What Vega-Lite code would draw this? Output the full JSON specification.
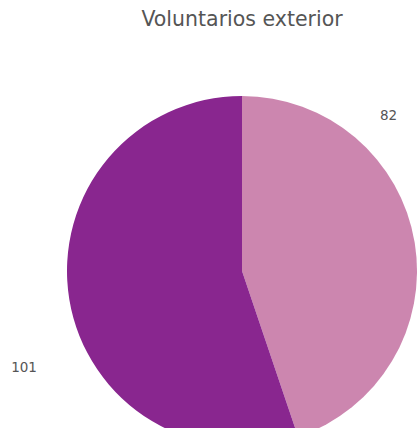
{
  "$schema": "https://vega.github.io/schema/vega-lite/v6.json",
  "autosize": {"type": "none"},
  "padding": {"left": 67, "top": 96, "right": 0, "bottom": 0},
  "width": 350,
  "height": 350,
  "background": "white",
  "title": {"text": "Voluntarios exterior", "font": "DejaVu Sans", "fontSize": 20.5, "fontWeight": "normal", "color": "#555555", "offset": 66},
  "data": {"values": [
    {"grupo": "1", "value": 82},
    {"grupo": "2", "value": 101}
  ]},
  "layer": [
    {
      "mark": {"type": "arc", "outerRadius": 175},
      "encoding": {
        "theta": {"field": "value", "type": "quantitative", "stack": true},
        "order": {"field": "grupo", "sort": "ascending"},
        "color": {"field": "grupo", "type": "nominal", "legend": null, "sort": ["1", "2"],
          "scale": {"domain": ["1", "2"], "range": ["#cc86af", "#89268f"]}}
      }
    },
    {
      "transform": [
        {"stack": "value", "groupby": [], "sort": [{"field": "grupo"}], "as": ["v0", "v1"]},
        {"filter": "datum.grupo == '1'"}
      ],
      "mark": {"type": "text", "radius": 213.6, "thetaOffset": 0.756, "font": "DejaVu Sans", "fontSize": 13.5, "color": "#555555", "align": "center", "baseline": "middle"},
      "encoding": {
        "theta": {"field": "v0", "type": "quantitative", "stack": null},
        "text": {"field": "value", "type": "quantitative"}
      }
    },
    {
      "transform": [
        {"stack": "value", "groupby": [], "sort": [{"field": "grupo"}], "as": ["v0", "v1"]},
        {"filter": "datum.grupo == '2'"}
      ],
      "mark": {"type": "text", "radius": 238.6, "thetaOffset": 1.478, "font": "DejaVu Sans", "fontSize": 13.5, "color": "#555555", "align": "center", "baseline": "middle"},
      "encoding": {
        "theta": {"field": "v0", "type": "quantitative", "stack": null},
        "text": {"field": "value", "type": "quantitative"}
      }
    }
  ]
}
